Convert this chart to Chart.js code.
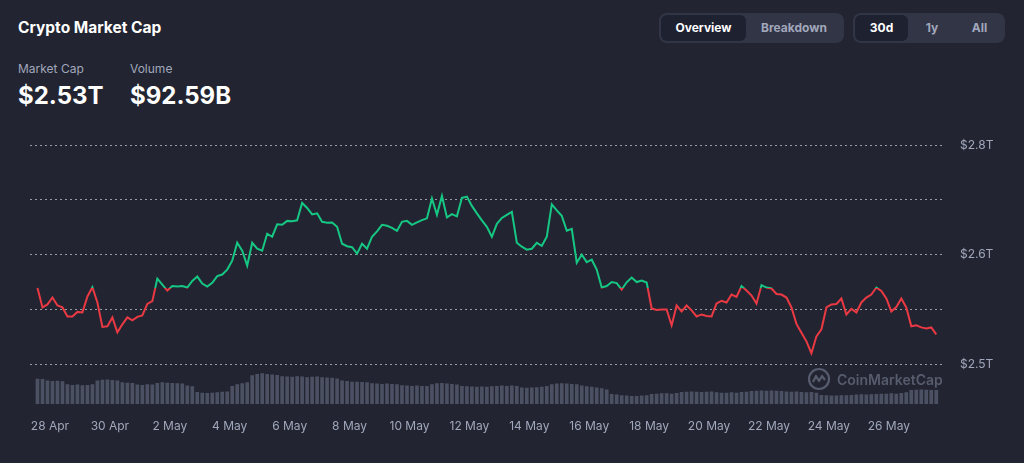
<!DOCTYPE html>
<html>
<head>
<meta charset="utf-8">
<title>Crypto Market Cap</title>
<script src="https://cdn.jsdelivr.net/npm/chart.js@4.4.1/dist/chart.umd.min.js"></script>
<style>
  body { margin: 0; width: 1024px; height: 463px; overflow: hidden; position: relative;
         background: #222531; color: #fff; font-family: Inter, "Noto Sans", sans-serif; }
  .title { position: absolute; left: 18px; top: 18px; font-size: 15.5px; font-weight: 700; }
  .stat { position: absolute; top: 61px; }
  .stat .lbl { font-size: 12px; color: #a1a7bb; }
  .stat .val { font-size: 24px; font-weight: 700; margin-top: 5px; }
  .toggle { position: absolute; top: 13px; height: 30px; box-sizing: border-box; background: #323546;
            border-radius: 8px; display: flex; align-items: center; padding: 2px; }
  .toggle div { height: 26px; line-height: 26px; text-align: center; font-size: 12px; font-weight: 700;
                color: #a1a7bb; border-radius: 6px; }
  .toggle div.on { background: #1e2130; color: #fff; }
  .mark { position: absolute; left: 807px; top: 367px; display: flex; align-items: center;
          color: #565b6d; font-size: 14px; font-weight: 600; }
  .mark svg { margin-right: 6px; }
  #wrap { position: absolute; left: 0; top: 123px; width: 1024px; height: 340px; }
</style>
</head>
<body>
<div class="title">Crypto Market Cap</div>
<div class="stat" style="left:18px"><div class="lbl">Market Cap</div><div class="val">$2.53T</div></div>
<div class="stat" style="left:130px"><div class="lbl">Volume</div><div class="val">$92.59B</div></div>

<div class="toggle" style="left:659px;width:185px">
  <div class="on" style="width:85px">Overview</div><div style="width:96px">Breakdown</div>
</div>
<div class="toggle" style="left:853px;width:152px">
  <div class="on" style="width:53px">30d</div><div style="width:48px">1y</div><div style="width:47px">All</div>
</div>

<div id="wrap"><canvas id="chart"></canvas></div>

<div class="mark">
  <svg width="24" height="24" viewBox="0 0 24 24">
    <circle cx="12" cy="12" r="10" fill="none" stroke="#565b6d" stroke-width="2.2"/>
    <path d="M6 15 L9 9 L12 14 L15 9 L18 13" fill="none" stroke="#565b6d" stroke-width="2.2" stroke-linejoin="round"/>
  </svg>
  CoinMarketCap
</div>

<script>
// one sample every 4 hours, starting 27 Apr 14:00
const stepHours = 4;

// total market cap, trillions USD
const marketCap = [
  2.5869, 2.5648, 2.5682, 2.5761, 2.5670, 2.5648, 2.5545, 2.5545, 2.5597, 2.5591,
  2.5773, 2.5878, 2.5705, 2.5426, 2.5432, 2.5534, 2.5364, 2.5455, 2.5534, 2.5500,
  2.5540, 2.5557, 2.5688, 2.5719, 2.5977, 2.5909, 2.5841, 2.5892, 2.5886, 2.5892,
  2.5875, 2.5951, 2.6000, 2.5920, 2.5886, 2.5928, 2.6006, 2.6023, 2.6080, 2.6182,
  2.6386, 2.6295, 2.6125, 2.6386, 2.6318, 2.6295, 2.6489, 2.6455, 2.6597, 2.6591,
  2.6636, 2.6631, 2.6642, 2.6841, 2.6784, 2.6710, 2.6722, 2.6625, 2.6614, 2.6617,
  2.6568, 2.6375, 2.6347, 2.6335, 2.6261, 2.6375, 2.6318, 2.6455, 2.6517, 2.6591,
  2.6580, 2.6557, 2.6523, 2.6625, 2.6636, 2.6591, 2.6619, 2.6644, 2.6665, 2.6892,
  2.6705, 2.6920, 2.6676, 2.6713, 2.6688, 2.6898, 2.6913, 2.6807, 2.6722, 2.6642,
  2.6568, 2.6455, 2.6602, 2.6670, 2.6705, 2.6739, 2.6386, 2.6341, 2.6307, 2.6318,
  2.6386, 2.6352, 2.6455, 2.6824, 2.6756, 2.6693, 2.6523, 2.6545, 2.6159, 2.6250,
  2.6165, 2.6193, 2.6080, 2.5875, 2.5892, 2.5938, 2.5926, 2.5852, 2.5935, 2.5989,
  2.5938, 2.5955, 2.5932, 2.5636, 2.5619, 2.5625, 2.5625, 2.5443, 2.5670, 2.5602,
  2.5670, 2.5614, 2.5545, 2.5568, 2.5551, 2.5545, 2.5693, 2.5724, 2.5705, 2.5795,
  2.5767, 2.5892, 2.5841, 2.5784, 2.5693, 2.5903, 2.5875, 2.5864, 2.5801, 2.5795,
  2.5761, 2.5648, 2.5460, 2.5358, 2.5261, 2.5125, 2.5318, 2.5398, 2.5648, 2.5682,
  2.5688, 2.5750, 2.5568, 2.5631, 2.5591, 2.5705, 2.5761, 2.5795, 2.5875, 2.5835,
  2.5750, 2.5602, 2.5653, 2.5750, 2.5648, 2.5432, 2.5443, 2.5420, 2.5409, 2.5420,
  2.5341
];

// volume, billions USD
const volume = [
  77, 76, 72, 70, 71, 69, 60, 58, 59, 57,
  58, 60, 72, 74, 75, 73, 72, 66, 65, 64,
  59, 58, 60, 59, 64, 66, 65, 64, 63, 62,
  56, 54, 36, 34, 33, 34, 35, 37, 38, 55,
  60, 63, 66, 88, 92, 94, 92, 90, 89, 85,
  84, 83, 85, 84, 82, 83, 84, 82, 81, 80,
  78, 72, 70, 68, 68, 67, 66, 63, 62, 61,
  62, 61, 60, 57, 56, 55, 56, 55, 55, 60,
  63, 64, 62, 61, 59, 55, 54, 53, 52, 53,
  52, 54, 55, 56, 55, 56, 55, 50, 49, 50,
  51, 52, 55, 60, 62, 63, 62, 61, 60, 56,
  54, 52, 50, 48, 44, 30, 28, 26, 25, 24,
  24, 25, 26, 30, 31, 32, 32, 31, 33, 36,
  37, 38, 37, 36, 37, 38, 35, 34, 34, 35,
  34, 36, 37, 39, 40, 41, 40, 41, 40, 39,
  38, 37, 38, 36, 35, 36, 34, 27, 26, 25,
  25, 26, 26, 27, 28, 29, 28, 29, 30, 31,
  31, 32, 31, 33, 35, 42, 43, 44, 43, 42,
  42
];

const dateLabels = ['28 Apr', '30 Apr', '2 May', '4 May', '6 May', '8 May', '10 May', '12 May',
                    '14 May', '16 May', '18 May', '20 May', '22 May', '24 May', '26 May'];
const firstLabelHour = 10;   // 28 Apr 00:00 is 10h after the first sample
const labelEveryHours = 48;

const yTicks = [2.5, 2.5625, 2.625, 2.6875, 2.75];
const yTickLabels = ['$2.5T', '', '$2.6T', '', '$2.8T'];

const green = '#16c784';
const red = '#ea3943';
const baseline = marketCap[0];

function splitColor(ctx) {
  const chart = ctx.chart;
  const area = chart.chartArea;
  if (!area) return green;
  const yb = chart.scales.y.getPixelForValue(baseline);
  let s = (yb - area.top) / (area.bottom - area.top);
  s = Math.max(0, Math.min(1, s));
  const g = chart.ctx.createLinearGradient(0, area.top, 0, area.bottom);
  g.addColorStop(0, green);
  g.addColorStop(s, green);
  g.addColorStop(s, red);
  g.addColorStop(1, red);
  return g;
}

new Chart(document.getElementById('chart'), {
  data: {
    datasets: [
      {
        type: 'line',
        data: marketCap.map((v, i) => ({ x: i * stepHours, y: v })),
        borderColor: splitColor,
        borderWidth: 2,
        pointRadius: 0,
        tension: 0,
        yAxisID: 'y',
        order: 0
      },
      {
        type: 'bar',
        data: volume.map((v, i) => ({ x: i * stepHours, y: v })),
        backgroundColor: '#4c5063',
        barThickness: 3,
        yAxisID: 'yv',
        order: 1
      }
    ]
  },
  options: {
    responsive: true,
    maintainAspectRatio: false,
    animation: false,
    layout: { padding: { left: 30, top: 7, right: 0, bottom: 0 } },
    plugins: { legend: { display: false }, tooltip: { enabled: false } },
    scales: {
      x: {
        type: 'linear',
        offset: false,
        min: -6,
        max: 727,
        grid: { display: false, drawTicks: false },
        border: { display: false },
        afterBuildTicks: axis => {
          axis.ticks = dateLabels.map((_, k) => ({ value: firstLabelHour + labelEveryHours * k }));
        },
        afterFit: axis => { axis.height = 59; },
        ticks: {
          autoSkip: false,
          maxRotation: 0,
          padding: 15,
          color: '#a1a7bb',
          font: { family: 'Inter', size: 12 },
          callback: (val, idx) => dateLabels[idx]
        }
      },
      y: {
        position: 'right',
        min: 2.45455,
        max: 2.75,
        grid: { color: 'rgba(255,255,255,0.55)', lineWidth: 1, drawTicks: false },
        border: { display: false, dash: [2, 3] },
        afterBuildTicks: axis => { axis.ticks = yTicks.map(v => ({ value: v })); },
        afterFit: axis => { axis.width = 79; },
        ticks: {
          padding: 15,
          color: '#a1a7bb',
          font: { family: 'Inter', size: 12 },
          callback: (val, idx) => yTickLabels[idx]
        }
      },
      yv: {
        display: false,
        min: 0,
        max: 800
      }
    }
  }
});
</script>
</body>
</html>
